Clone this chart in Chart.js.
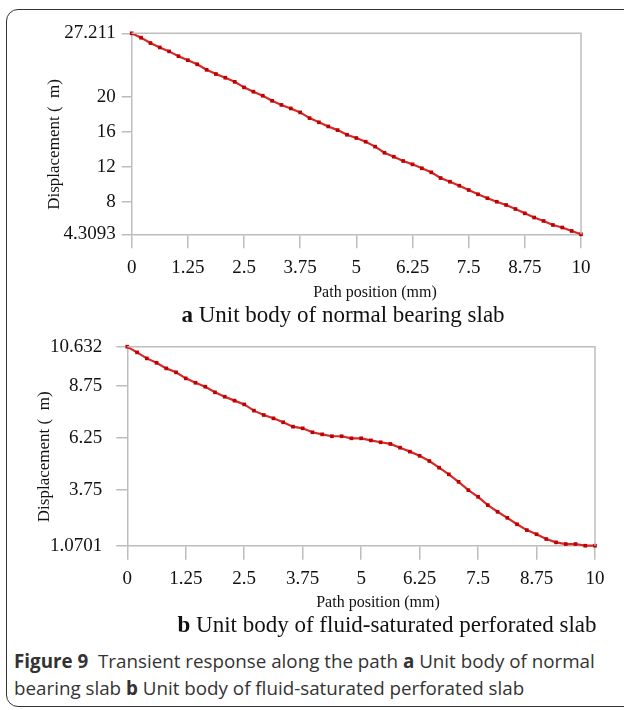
<!DOCTYPE html>
<html>
<head>
<meta charset="utf-8">
<script src="https://cdn.jsdelivr.net/npm/chart.js@4.4.0/dist/chart.umd.min.js"></script>
<style>
  html, body { margin: 0; padding: 0; background: #fff; }
  body { width: 624px; height: 710px; position: relative; overflow: hidden; }
  .frame {
    position: absolute; left: 6px; top: 9px; width: 680px; height: 698px;
    border: 1.5px solid #333; border-radius: 12px; box-sizing: border-box;
  }
  canvas { position: absolute; left: 0; }
  #chart-a { top: 0; }
  #chart-b { top: 310px; }
  .serif {
    position: absolute; font-family: "Liberation Serif", "Times New Roman", serif;
    color: #111; white-space: nowrap; transform: translateX(-50%);
  }
  .axis-x { font-size: 16px; line-height: 20px; }
  .sub { font-size: 23px; line-height: 28px; }
  .caption {
    position: absolute; left: 14px; top: 648px; font-family: "Open Sans", sans-serif;
    font-size: 18.8px; line-height: 27px; color: #333; white-space: nowrap;
  }
</style>
</head>
<body>
<div class="frame"></div>

<canvas id="chart-a" width="624" height="285"></canvas>
<div class="serif axis-x" style="left:375px; top:282px;">Path position (mm)</div>
<div class="serif sub" style="left:343px; top:301px;"><b>a</b> Unit body of normal bearing slab</div>

<canvas id="chart-b" width="624" height="285"></canvas>
<div class="serif axis-x" style="left:378px; top:592px;">Path position (mm)</div>
<div class="serif sub" style="left:387px; top:611px;"><b>b</b> Unit body of fluid-saturated perforated slab</div>

<div class="caption"><b>Figure 9</b>&nbsp; Transient response along the path <b>a</b> Unit body of normal<br>bearing slab <b>b</b> Unit body of fluid-saturated perforated slab</div>

<script>
// path positions (mm), 49 samples along the path
const pathPos = [
  0, 0.208, 0.417, 0.625, 0.833, 1.042,
  1.25, 1.458, 1.667, 1.875, 2.083, 2.292,
  2.5, 2.708, 2.917, 3.125, 3.333, 3.542,
  3.75, 3.958, 4.167, 4.375, 4.583, 4.792,
  5, 5.208, 5.417, 5.625, 5.833, 6.042,
  6.25, 6.458, 6.667, 6.875, 7.083, 7.292,
  7.5, 7.708, 7.917, 8.125, 8.333, 8.542,
  8.75, 8.958, 9.167, 9.375, 9.583, 9.792,
  10
];

// (a) normal bearing slab
const dispNormal = [
  27.211, 26.71, 26.10, 25.60, 25.15, 24.60,
  24.15, 23.68, 23.05, 22.57, 22.15, 21.68,
  21.05, 20.56, 20.10, 19.52, 19.05, 18.65,
  18.20, 17.55, 17.07, 16.60, 16.18, 15.65,
  15.28, 14.86, 14.30, 13.60, 13.15, 12.66,
  12.28, 11.83, 11.37, 10.72, 10.30, 9.85,
  9.36, 8.87, 8.42, 8.02, 7.65, 7.19,
  6.70, 6.22, 5.83, 5.37, 5.08, 4.69,
  4.3093
];

// (b) fluid-saturated perforated slab
const dispPerforated = [
  10.632, 10.36, 10.07, 9.86, 9.59, 9.40,
  9.11, 8.90, 8.71, 8.44, 8.23, 8.04,
  7.86, 7.56, 7.35, 7.19, 7.00, 6.79,
  6.71, 6.52, 6.42, 6.33, 6.33, 6.23,
  6.23, 6.13, 6.04, 5.96, 5.78, 5.59,
  5.39, 5.14, 4.82, 4.50, 4.14, 3.74,
  3.42, 3.02, 2.70, 2.41, 2.10, 1.82,
  1.62, 1.39, 1.23, 1.15, 1.15, 1.07,
  1.0701
];

const xTicks = [0, 1.25, 2.5, 3.75, 5, 6.25, 7.5, 8.75, 10];
const yTicksNormal = [4.3093, 8, 12, 16, 20, 27.211];
const yTicksPerforated = [1.0701, 3.75, 6.25, 8.75, 10.632];

const axisGrey = '#bdbdbd';
const serif = '"Liberation Serif", "Times New Roman", serif';

// draws the grey top and right edges of the plot box
const boxPlugin = {
  id: 'plotBox',
  afterDraw(chart) {
    const { ctx, chartArea: a } = chart;
    ctx.save();
    ctx.strokeStyle = axisGrey;
    ctx.lineWidth = 1.5;
    ctx.beginPath();
    ctx.moveTo(a.left, a.top);
    ctx.lineTo(a.right, a.top);
    ctx.lineTo(a.right, a.bottom);
    ctx.stroke();
    ctx.restore();
  }
};

function makeChart(canvasId, values, yTicks, cfg) {
  const points = pathPos.map((x, i) => ({ x: x, y: values[i] }));

  return new Chart(document.getElementById(canvasId), {
    type: 'line',
    data: {
      datasets: [{
        data: points,
        borderColor: '#d42a2a',
        borderWidth: 2.2,
        pointStyle: 'rect',
        pointRadius: 2.6,
        pointBackgroundColor: '#c00000',
        pointBorderWidth: 0,
        tension: 0,
        clip: false
      }]
    },
    options: {
      responsive: false,
      animation: false,
      events: [],
      layout: { padding: { left: 0, right: cfg.padRight, top: cfg.padTop, bottom: 0 } },
      plugins: { legend: { display: false }, tooltip: { enabled: false } },
      scales: {
        x: {
          type: 'linear',
          min: 0,
          max: 10,
          afterBuildTicks: axis => { axis.ticks = xTicks.map(v => ({ value: v })); },
          afterFit: axis => { axis.height = cfg.xAxisHeight; },
          grid: { drawOnChartArea: false, color: axisGrey, lineWidth: 1.5, tickLength: 14 },
          border: { color: axisGrey, width: 1.5 },
          ticks: {
            padding: 8,
            maxRotation: 0,
            color: '#111',
            font: { family: serif, size: 19 },
            callback: v => String(v)
          }
        },
        y: {
          type: 'linear',
          min: yTicks[0],
          max: yTicks[yTicks.length - 1],
          afterBuildTicks: axis => { axis.ticks = yTicks.map(v => ({ value: v })); },
          afterFit: axis => { axis.width = cfg.yAxisWidth; },
          grid: { drawOnChartArea: false, color: axisGrey, lineWidth: 1.5, tickLength: cfg.yTickLen },
          border: { color: axisGrey, width: 1.5 },
          ticks: {
            padding: cfg.yTickPad,
            color: '#111',
            font: { family: serif, size: 19 },
            callback: v => String(v)
          },
          title: {
            display: true,
            // trailing blanks push the text a little below the axis middle, as in the figure
            text: 'Displacement (  m)     ',
            color: '#111',
            font: { family: serif, size: 17 },
            padding: { top: cfg.titleOffset, bottom: 0 }
          }
        }
      }
    },
    plugins: [boxPlugin]
  });
}

makeChart('chart-a', dispNormal, yTicksNormal, {
  padTop: 33.3, padRight: 43, xAxisHeight: 50.7, yAxisWidth: 131.7,
  yTickLen: 10, yTickPad: 6, titleOffset: 44
});

makeChart('chart-b', dispPerforated, yTicksPerforated, {
  padTop: 36.7, padRight: 29, xAxisHeight: 49.3, yAxisWidth: 127.3,
  yTickLen: 11, yTickPad: 14, titleOffset: 34
});
</script>
</body>
</html>
